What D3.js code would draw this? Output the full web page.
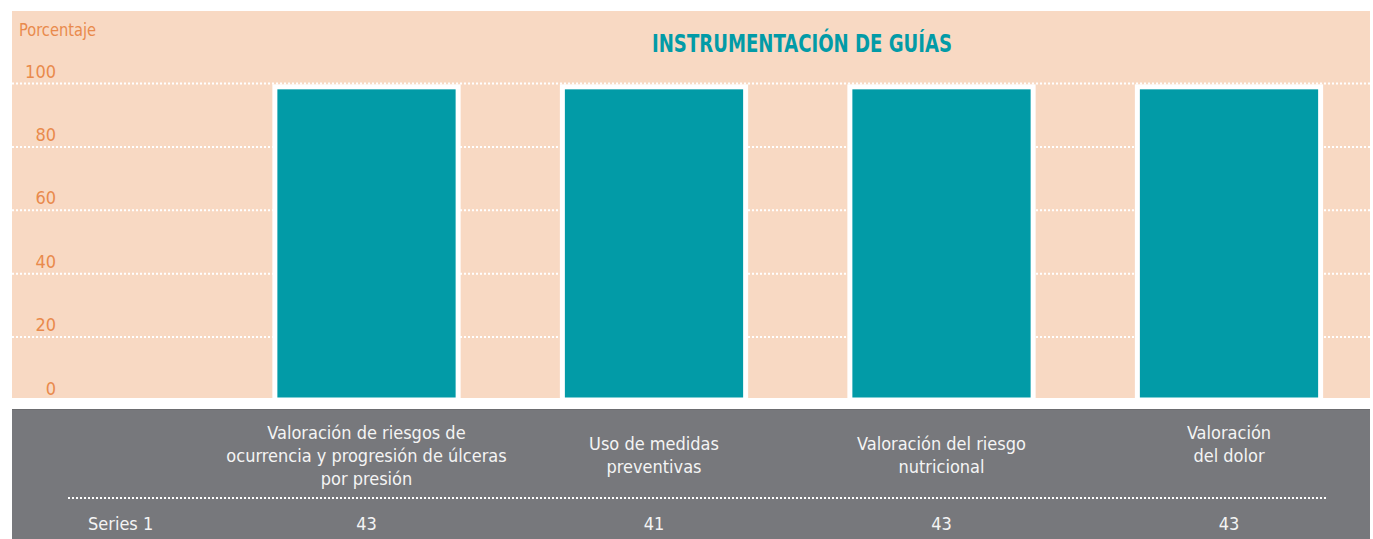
<!DOCTYPE html>
<html>
<head>
    <meta charset="utf-8">
    <title>Instrumentación de guías</title>
    <script src="https://d3js.org/d3.v7.min.js"></script>
    <style>
        body { margin: 0; background: #fff; }
        svg text { font-family: "Liberation Sans Narrow", "DejaVu Sans Condensed", sans-serif; }
        .grid line { stroke: #fff; stroke-width: 2; stroke-dasharray: 2,2; }
        .grid .domain { display: none; }
        .yaxis .domain { display: none; }
        .yaxis text { fill: #E98A4C; font-size: 18px; }
    </style>
</head>
<body>
    <svg width="1373" height="539"></svg>
    <script>
        // data
        var categories = [
            "Valoración de riesgos de\nocurrencia y progresión de úlceras\npor presión",
            "Uso de medidas\npreventivas",
            "Valoración del riesgo\nnutricional",
            "Valoración\ndel dolor\n"
        ];
        var barValues = [98, 98, 98, 98];      // height of the drawn bars
        var tableValues = [43, 41, 43, 43];    // "Series 1" row of the data table
        var seriesName = "Series 1";
        var yTicks = [0, 20, 40, 60, 80, 100];

        var svg = d3.select("svg"),
            width = +svg.attr("width"),
            height = +svg.attr("height");

        var peach = "#F8D9C3", teal = "#029BA7", orange = "#E98A4C", gray = "#77787C";

        var x = d3.scaleBand()
            .domain(categories)
            .range([222.75, 1372.75])
            .paddingInner(0.38)
            .paddingOuter(0.19);

        var y = d3.scaleLinear().domain([0, 100]).range([400, 83]);

        // plot background
        svg.append("rect")
            .attr("x", 12).attr("y", 11)
            .attr("width", 1358).attr("height", 387)
            .attr("fill", peach);

        // dotted gridlines
        svg.append("g")
            .attr("class", "grid")
            .attr("transform", "translate(12,0)")
            .call(d3.axisRight(y).tickValues(yTicks.slice(1)).tickSize(1358).tickFormat(""));

        // y labels
        var yAxis = svg.append("g")
            .attr("class", "yaxis")
            .attr("transform", "translate(59,0)")
            .call(d3.axisLeft(y).tickValues(yTicks).tickSize(0).tickPadding(3));
        yAxis.selectAll("text").attr("dy", "-6px");

        svg.append("text")
            .attr("x", 19).attr("y", 36)
            .attr("fill", orange)
            .attr("textLength", 77)
            .attr("lengthAdjust", "spacingAndGlyphs")
            .style("font-size", "18px")
            .text("Porcentaje");

        svg.append("text")
            .attr("x", 652).attr("y", 52)
            .attr("fill", teal)
            .attr("textLength", 300)
            .attr("lengthAdjust", "spacingAndGlyphs")
            .style("font-size", "25px")
            .style("font-weight", "bold")
            .text("INSTRUMENTACIÓN DE GUÍAS");

        // bars with white frame
        var bars = svg.append("g").selectAll("g")
            .data(categories)
            .enter().append("g");

        bars.append("rect")
            .attr("x", function(d) { return x(d) - 5; })
            .attr("y", function(d, i) { return y(barValues[i]) - 5; })
            .attr("width", x.bandwidth() + 10)
            .attr("height", function(d, i) { return y(0) - y(barValues[i]) + 5; })
            .attr("fill", "#fff");

        bars.append("rect")
            .attr("x", function(d) { return x(d); })
            .attr("y", function(d, i) { return y(barValues[i]); })
            .attr("width", x.bandwidth())
            .attr("height", function(d, i) { return y(0) - 2.5 - y(barValues[i]); })
            .attr("fill", teal);

        // data table
        svg.append("rect")
            .attr("x", 12).attr("y", 409)
            .attr("width", 1358).attr("height", 130)
            .attr("fill", gray);
        svg.append("line")
            .attr("x1", 12).attr("x2", 1370)
            .attr("y1", 409.5).attr("y2", 409.5)
            .attr("stroke", "#6C6D70");

        svg.append("line")
            .attr("x1", 68).attr("x2", 1328)
            .attr("y1", 498).attr("y2", 498)
            .attr("stroke", "#fff")
            .attr("stroke-width", 2)
            .attr("stroke-dasharray", "2,2");

        var head = svg.append("g").selectAll("text")
            .data(categories)
            .enter().append("text")
            .attr("text-anchor", "middle")
            .attr("fill", "#F4F4F4")
            .style("font-size", "18px");

        head.each(function(d) {
            var lines = d.split("\n");
            var t = d3.select(this);
            var y0 = 461.5 - (lines.length - 1) * 11.5;
            lines.forEach(function(l, k) {
                t.append("tspan")
                    .attr("x", x(d) + x.bandwidth() / 2)
                    .attr("y", y0 + k * 23)
                    .text(l);
            });
        });

        svg.append("text")
            .attr("x", 88).attr("y", 530)
            .attr("fill", "#F4F4F4")
            .style("font-size", "18px")
            .text(seriesName);

        svg.append("g").selectAll("text")
            .data(categories)
            .enter().append("text")
            .attr("x", function(d) { return x(d) + x.bandwidth() / 2; })
            .attr("y", 530)
            .attr("text-anchor", "middle")
            .attr("fill", "#F4F4F4")
            .style("font-size", "18px")
            .text(function(d, i) { return tableValues[i]; });
    </script>
</body>
</html>
